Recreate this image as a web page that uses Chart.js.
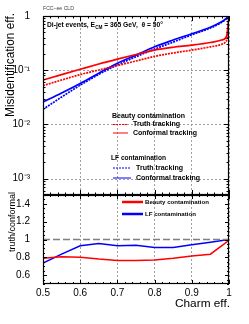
<!DOCTYPE html>
<html>
<head>
<meta charset="utf-8">
<script src="https://cdn.jsdelivr.net/npm/chart.js@4.4.1/dist/chart.umd.min.js"></script>
<style>
  html, body { margin: 0; padding: 0; background: #ffffff; width: 249px; height: 324px; overflow: hidden; }
  .box { position: absolute; left: 0; width: 249px; }
  #topBox { top: 0; height: 206px; }
  #botBox { top: 184px; height: 140px; }
</style>
</head>
<body>
<div class="box" id="topBox"><canvas id="topChart" width="249" height="206"></canvas></div>
<div class="box" id="botBox"><canvas id="botChart" width="249" height="140"></canvas></div>
<script>
// ---------------- data ----------------
const charmEff        = [0.5, 0.55, 0.6, 0.65, 0.7, 0.75, 0.8, 0.85, 0.9, 0.95, 0.98, 0.99, 0.995, 1.0];
const beautyConformal = [0.066, 0.083, 0.104, 0.13, 0.16, 0.195, 0.235, 0.265, 0.29, 0.325, 0.36, 0.39, 0.47, 1.0];
const beautyTruth     = [0.052, 0.066, 0.083, 0.101, 0.122, 0.148, 0.18, 0.208, 0.235, 0.27, 0.30, 0.33, 0.40, 1.0];
const lfConformal     = [0.026, 0.038, 0.057, 0.088, 0.135, 0.19, 0.27, 0.36, 0.47, 0.62, 0.78, 0.87, 0.93, 1.0];
const lfTruth         = [0.019, 0.032, 0.053, 0.084, 0.125, 0.177, 0.245, 0.33, 0.45, 0.60, 0.76, 0.85, 0.92, 1.0];

const ratioEff    = [0.5, 0.55, 0.6, 0.65, 0.7, 0.75, 0.8, 0.85, 0.9, 0.95, 1.0];
const beautyRatio = [0.79, 0.805, 0.80, 0.78, 0.765, 0.765, 0.77, 0.79, 0.815, 0.835, 0.99];
const lfRatio     = [0.735, 0.835, 0.93, 0.955, 0.93, 0.935, 0.91, 0.91, 0.94, 0.97, 1.0];
const refLineEff  = [0.5, 1.0];
const refLine     = [1.0, 1.0];

const xTicks      = [0.5, 0.6, 0.7, 0.8, 0.9, 1.0];
const logTicks    = [0.001, 0.01, 0.1, 1];
const logLabels   = ['10\u207B\u00B3', '10\u207B\u00B2', '10\u207B\u00B9', '1'];
const ratioTicks  = [0.6, 0.8, 1.0, 1.2, 1.4];

const RED = '#ff0000', BLUE = '#0000ff';
const FONT = '"Liberation Sans", Arial, Helvetica, sans-serif';
const BOT_OFF = 184;

const pts = (xs, ys) => xs.map((x, i) => ({ x: x, y: ys[i] }));

function plotBox(chart) {
  const xs = chart.scales.x, ys = chart.scales.y;
  return { left: Math.round(xs.getPixelForValue(xs.min)), right: Math.round(xs.getPixelForValue(xs.max)),
           top: Math.round(ys.getPixelForValue(ys.max)), bottom: Math.round(ys.getPixelForValue(ys.min)) };
}

function drawFrameTicks(chart, yMajor, yMinor, xMajor, xMinor, lenMaj, lenMin) {
  const ctx = chart.ctx, a = plotBox(chart);
  const xs = chart.scales.x, ys = chart.scales.y;
  ctx.save();
  ctx.strokeStyle = '#000';
  ctx.lineWidth = 1;
  ctx.setLineDash([]);
  ctx.beginPath();
  yMajor.forEach(v => { const p = Math.round(ys.getPixelForValue(v)) + 0.5;
    ctx.moveTo(a.left, p); ctx.lineTo(a.left + lenMaj, p);
    ctx.moveTo(a.right, p); ctx.lineTo(a.right - lenMaj, p); });
  yMinor.forEach(v => { const p = Math.round(ys.getPixelForValue(v)) + 0.5;
    ctx.moveTo(a.left, p); ctx.lineTo(a.left + lenMin, p);
    ctx.moveTo(a.right, p); ctx.lineTo(a.right - lenMin, p); });
  xMajor.forEach(v => { const p = Math.round(xs.getPixelForValue(v)) + 0.5;
    ctx.moveTo(p, a.bottom); ctx.lineTo(p, a.bottom - lenMaj);
    ctx.moveTo(p, a.top); ctx.lineTo(p, a.top + lenMaj); });
  xMinor.forEach(v => { const p = Math.round(xs.getPixelForValue(v)) + 0.5;
    ctx.moveTo(p, a.bottom); ctx.lineTo(p, a.bottom - lenMin);
    ctx.moveTo(p, a.top); ctx.lineTo(p, a.top + lenMin); });
  ctx.stroke();
  ctx.lineWidth = 1.2;
  ctx.strokeRect(a.left + 0.5, a.top + 0.5, a.right - a.left - 1, a.bottom - a.top - 1);
  ctx.restore();
}

function drawHGrid(chart, values) {
  const ctx = chart.ctx, a = plotBox(chart), ys = chart.scales.y;
  ctx.save();
  ctx.strokeStyle = '#888'; ctx.lineWidth = 0.8; ctx.setLineDash([2, 2]);
  ctx.beginPath();
  values.forEach(v => { const p = Math.round(ys.getPixelForValue(v)) + 0.5; ctx.moveTo(a.left, p); ctx.lineTo(a.right, p); });
  ctx.stroke();
  ctx.restore();
}

// text sized so that it spans the given width
function fitText(ctx, text, x, y, width, weight, align) {
  ctx.font = weight + ' 10px ' + FONT;
  const size = 10 * width / ctx.measureText(text).width;
  ctx.font = weight + ' ' + size.toFixed(2) + 'px ' + FONT;
  ctx.textAlign = align || 'left';
  ctx.fillText(text, x, y);
}

const xMinorList = [];
for (let i = 0; i <= 25; i++) { const v = 0.5 + i * 0.02; if (i % 5 !== 0) xMinorList.push(v); }
const logMinorList = [];
[0.0001, 0.001, 0.01, 0.1].forEach(d => { for (let k = 2; k <= 9; k++) { const v = d * k; if (v >= 0.0005 && v <= 1) logMinorList.push(v); } });
const ratioMinorList = [];
for (let i = 0; i <= 20; i++) { if (i % 4 !== 2) ratioMinorList.push(0.5 + i * 0.05); }

function legendLine(ctx, x1, x2, y, color, dash, w) {
  ctx.save();
  ctx.strokeStyle = color; ctx.lineWidth = w; ctx.setLineDash(dash);
  ctx.beginPath(); ctx.moveTo(x1, y); ctx.lineTo(x2, y); ctx.stroke();
  ctx.restore();
}

const topDecor = {
  id: 'topDecor',
  beforeDatasetsDraw(chart) { drawHGrid(chart, [0.001, 0.01, 0.1]); },
  afterDatasetsDraw(chart) {
    drawFrameTicks(chart, logTicks, logMinorList, xTicks, xMinorList, 5, 2.5);
    const ctx = chart.ctx;
    ctx.save();
    ctx.textBaseline = 'middle';
    ctx.fillStyle = '#444';
    fitText(ctx, 'FCC\u2013ee CLD', 43, 9, 31, 'normal');
    // event text with subscript, scaled to span 116 px
    ctx.fillStyle = '#000';
    const s1 = 'Di-jet events, E', s2 = 'CM', s3 = ' = 365 GeV,  \u03B8 = 50\u00B0';
    ctx.font = 'bold 10px ' + FONT;
    const w1 = ctx.measureText(s1).width, w3 = ctx.measureText(s3).width;
    ctx.font = 'bold 7px ' + FONT;
    const w2 = ctx.measureText(s2).width;
    const k = 116 / (w1 + w2 + w3);
    let x = 47, y = 25;
    ctx.textAlign = 'left';
    ctx.font = 'bold ' + (10 * k).toFixed(2) + 'px ' + FONT;
    ctx.fillText(s1, x, y); x += w1 * k;
    ctx.font = 'bold ' + (7 * k).toFixed(2) + 'px ' + FONT;
    ctx.fillText(s2, x, y + 2.5); x += w2 * k;
    ctx.font = 'bold ' + (10 * k).toFixed(2) + 'px ' + FONT;
    ctx.fillText(s3, x, y);
    // legend
    fitText(ctx, 'Beauty contamination', 112, 116, 73, 'bold');
    fitText(ctx, 'Truth tracking', 133, 124.5, 47, 'bold');
    fitText(ctx, 'Conformal tracking', 133, 133, 64, 'bold');
    fitText(ctx, 'LF contamination', 111, 158, 55, 'bold');
    fitText(ctx, 'Truth tracking', 136, 168, 47, 'bold');
    fitText(ctx, 'Conformal tracking', 136, 178, 64, 'bold');
    legendLine(ctx, 113, 128, 124.5, RED, [2, 1], 1);
    legendLine(ctx, 113, 128, 133, RED, [], 1);
    legendLine(ctx, 113, 131, 168, BLUE, [2, 1], 1);
    legendLine(ctx, 113, 131, 178, BLUE, [], 1);
    // y title
    ctx.save();
    ctx.translate(11, 13);
    ctx.rotate(-Math.PI / 2);
    fitText(ctx, 'Misidentification eff.', 0, 0, 104, 'normal', 'right');
    ctx.restore();
    ctx.restore();
  }
};

const botDecor = {
  id: 'botDecor',
  afterDatasetsDraw(chart) {
    drawFrameTicks(chart, ratioTicks, ratioMinorList, xTicks, xMinorList, 4, 2);
    const ctx = chart.ctx;
    const off = BOT_OFF;
    ctx.save();
    ctx.fillStyle = '#000';
    ctx.textBaseline = 'middle';
    fitText(ctx, 'Beauty contamination', 145, 202 - off, 64, 'bold');
    fitText(ctx, 'LF contamination', 145, 214 - off, 51, 'bold');
    legendLine(ctx, 122, 143, 202 - off, RED, [], 2.5);
    legendLine(ctx, 122, 143, 214 - off, BLUE, [], 2.5);
    fitText(ctx, 'Charm eff.', 230, 304 - off, 55, 'normal', 'right');
    ctx.save();
    ctx.translate(12.5, 192 - off);
    ctx.rotate(-Math.PI / 2);
    fitText(ctx, 'truth/conformal', 0, 0, 60, 'normal', 'right');
    ctx.restore();
    ctx.restore();
  }
};

const gridCommon = { color: '#888', lineWidth: 0.8, drawTicks: false };

new Chart(document.getElementById('topChart'), {
  type: 'line',
  data: {
    datasets: [
      { label: 'Beauty truth', data: pts(charmEff, beautyTruth), borderColor: RED, borderWidth: 1.7, borderDash: [2, 1] },
      { label: 'Beauty conformal', data: pts(charmEff, beautyConformal), borderColor: RED, borderWidth: 1.7 },
      { label: 'LF truth', data: pts(charmEff, lfTruth), borderColor: BLUE, borderWidth: 1.7, borderDash: [2, 1] },
      { label: 'LF conformal', data: pts(charmEff, lfConformal), borderColor: BLUE, borderWidth: 1.7 }
    ]
  },
  options: {
    responsive: false, animation: false, devicePixelRatio: 1,
    layout: { autoPadding: false, padding: { top: 16, right: 20, bottom: 1, left: 0 } },
    elements: { point: { radius: 0 }, line: { cubicInterpolationMode: 'monotone', fill: false } },
    plugins: { legend: { display: false }, tooltip: { enabled: false } },
    scales: {
      x: {
        type: 'linear', min: 0.5, max: 1.0,
        afterBuildTicks: s => { s.ticks = xTicks.map(v => ({ value: v })); },
        afterFit: s => { s.height = 0; },
        ticks: { display: false },
        grid: gridCommon,
        border: { display: false, dash: [2, 2] }
      },
      y: {
        type: 'logarithmic', min: 0.0005, max: 1,
        afterBuildTicks: s => { s.ticks = logTicks.map(v => ({ value: v })); },
        afterFit: s => { s.width = 43; },
        ticks: {
          padding: 5, color: '#000', font: { family: FONT, size: 10 },
          callback: (v) => { const i = logTicks.findIndex(t => Math.abs(t - v) / t < 1e-6); return i >= 0 ? logLabels[i] : ''; }
        },
        grid: { display: false },
        border: { display: false }
      }
    }
  },
  plugins: [topDecor]
});

new Chart(document.getElementById('botChart'), {
  type: 'line',
  data: {
    datasets: [
      { label: 'ref', data: pts(refLineEff, refLine), borderColor: '#808080', borderWidth: 1.5, borderDash: [7, 3] },
      { label: 'Beauty contamination', data: pts(ratioEff, beautyRatio), borderColor: RED, borderWidth: 1.5, tension: 0 },
      { label: 'LF contamination', data: pts(ratioEff, lfRatio), borderColor: BLUE, borderWidth: 1.5, tension: 0 }
    ]
  },
  options: {
    responsive: false, animation: false, devicePixelRatio: 1,
    layout: { autoPadding: false, padding: { top: 5, right: 20, bottom: 0, left: 0 } },
    elements: { point: { radius: 0 }, line: { fill: false } },
    plugins: { legend: { display: false }, tooltip: { enabled: false } },
    scales: {
      x: {
        type: 'linear', min: 0.5, max: 1.0,
        afterBuildTicks: s => { s.ticks = xTicks.map(v => ({ value: v })); },
        afterFit: s => { s.height = 40; },
        ticks: { padding: 3, color: '#000', maxRotation: 0, autoSkip: false, font: { family: FONT, size: 10 },
                 callback: v => String(Number(v.toFixed(1))) },
        grid: gridCommon,
        border: { display: false, dash: [2, 2] }
      },
      y: {
        type: 'linear', min: 0.5, max: 1.5,
        afterBuildTicks: s => { s.ticks = ratioTicks.map(v => ({ value: v })); },
        afterFit: s => { s.width = 43; },
        ticks: { padding: 5, color: '#000', font: { family: FONT, size: 10 },
                 callback: v => String(Number(v.toFixed(1))) },
        grid: { display: false },
        border: { display: false }
      }
    }
  },
  plugins: [botDecor]
});
</script>
</body>
</html>
